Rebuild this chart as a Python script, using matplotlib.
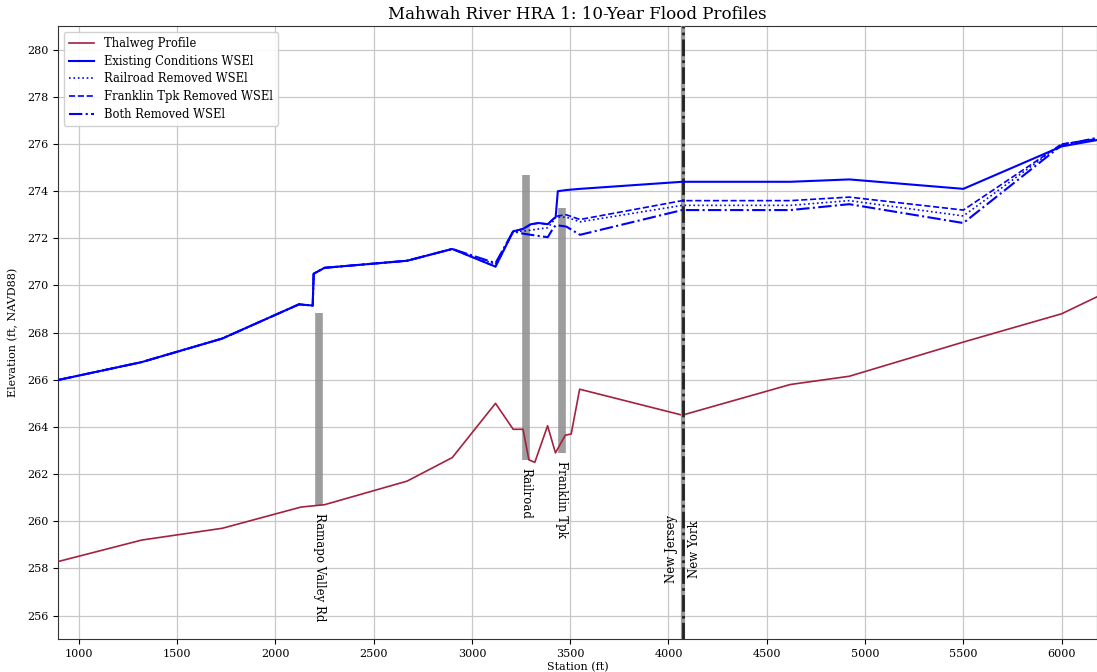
import numpy as np
import matplotlib
matplotlib.use("Agg")
import matplotlib.pyplot as plt

# thalweg profile (station ft, elevation ft NAVD88)
thalweg_sta = [900, 1320, 1730, 2130, 2250, 2670, 2900, 3120, 3210, 3260, 3290,
               3320, 3385, 3425, 3475, 3505, 3548, 4070, 4620, 4920, 5500, 6000, 6200]
thalweg_elev = [258.3, 259.2, 259.7, 260.6, 260.7, 261.7, 262.7, 265.0, 263.9, 263.9, 262.6,
                262.5, 264.05, 262.9, 263.65, 263.7, 265.6, 264.5, 265.8, 266.15, 267.6, 268.8, 269.6]

# water surface profiles
wse_sta = [900, 1320, 1730, 2120, 2190, 2195, 2250, 2670, 2900, 3120, 3210, 3260,
           3300, 3340, 3386, 3411, 3426, 3437, 3480, 3550, 4070, 4620, 4920, 5500, 6000, 6200]
existing = [266.0, 266.75, 267.75, 269.2, 269.15, 270.5, 270.75, 271.05, 271.55, 270.8, 272.3, 272.4,
            272.6, 272.65, 272.6, 272.8, 272.9, 274.0, 274.05, 274.1, 274.4, 274.4, 274.5, 274.1, 275.9, 276.2]
railroad_removed = [266.0, 266.75, 267.75, 269.2, 269.15, 270.5, 270.75, 271.05, 271.55, 270.9, 272.3, 272.3,
                    272.35, 272.4, 272.45, 272.7, 272.9, 272.9, 272.9, 272.7, 273.4, 273.4, 273.6, 272.95, 276.0, 276.2]
franklin_removed = [266.0, 266.75, 267.75, 269.2, 269.15, 270.5, 270.75, 271.05, 271.55, 270.8, 272.3, 272.4,
                    272.6, 272.65, 272.6, 272.8, 272.9, 272.95, 273.0, 272.8, 273.6, 273.6, 273.75, 273.2, 276.0, 276.25]
both_removed = [266.0, 266.75, 267.75, 269.2, 269.15, 270.5, 270.75, 271.05, 271.55, 270.95, 272.3, 272.2,
                272.15, 272.1, 272.05, 272.4, 272.55, 272.55, 272.5, 272.15, 273.2, 273.2, 273.45, 272.65, 275.95, 276.3]

# crossings: name, station, bottom elev, top elev
bridge_names = ["Ramapo Valley Rd", "Railroad", "Franklin Tpk"]
bridge_sta = [2223, 3274, 3457]
bridge_low = [260.7, 262.6, 262.9]
bridge_high = [268.85, 274.7, 273.3]

state_line_sta = 4075

plt.rcParams["font.family"] = "DejaVu Serif"

fig = plt.figure(figsize=(10.97, 6.72), dpi=100)
ax = fig.add_axes([0.053, 0.049, 0.947, 0.912])

ax.grid(True, color="#c8c8c8", linewidth=0.9)
ax.set_axisbelow(True)

for name, s, lo, hi in zip(bridge_names, bridge_sta, bridge_low, bridge_high):
    ax.plot([s, s], [lo, hi], color="#8c8c8c", linewidth=5.5, alpha=0.85, solid_capstyle="butt", zorder=2)
    ax.text(s, lo - 0.35, name, rotation=-90, ha="center", va="top", fontsize=8.5)

ax.plot(thalweg_sta, thalweg_elev, color="#a3213f", linewidth=1.2, label="Thalweg Profile", zorder=3)
ax.plot(wse_sta, existing, color="blue", linewidth=1.5, label="Existing Conditions WSEl", zorder=4)
ax.plot(wse_sta, railroad_removed, color="blue", linewidth=1.2, linestyle=":", label="Railroad Removed WSEl", zorder=4)
ax.plot(wse_sta, franklin_removed, color="blue", linewidth=1.2, linestyle="--", label="Franklin Tpk Removed WSEl", zorder=4)
ax.plot(wse_sta, both_removed, color="blue", linewidth=1.5, linestyle="-.", label="Both Removed WSEl", zorder=4)

ax.axvline(state_line_sta, color="#999999", linewidth=3, zorder=3)
ax.axvline(state_line_sta, color="#222222", linewidth=2, linestyle=(0, (6, 1.5, 1, 1.5)), zorder=3)
ax.text(state_line_sta - 25, 258.8, "New Jersey", rotation=90, ha="right", va="center", fontsize=8.5)
ax.text(state_line_sta + 25, 258.8, "New York", rotation=90, ha="left", va="center", fontsize=8.5)

ax.set_xlim(895, 6180)
ax.set_ylim(255, 281)
ax.set_xticks(np.arange(1000, 6001, 500))
ax.set_yticks(np.arange(256, 281, 2))
ax.tick_params(labelsize=8)

ax.set_title("Mahwah River HRA 1: 10-Year Flood Profiles", fontsize=12, pad=5)
ax.set_xlabel("Station (ft)", fontsize=8, labelpad=2)
ax.set_ylabel("Elevation (ft, NAVD88)", fontsize=8, labelpad=6)

for sp in ax.spines.values():
    sp.set_color("#333333")

ax.legend(loc="upper left", prop={"size": 8.3}, framealpha=0.9,
          handlelength=2.2, borderpad=0.45, labelspacing=0.4)

plt.savefig("out.png", dpi=100)
